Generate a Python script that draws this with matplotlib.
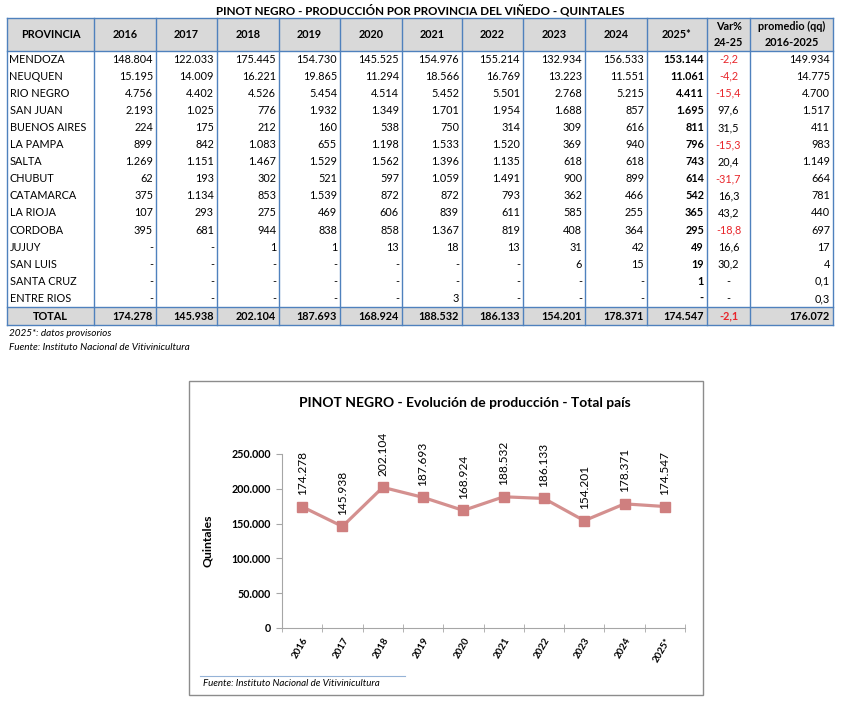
import matplotlib
matplotlib.use("Agg")
import matplotlib.pyplot as plt
from matplotlib.patches import Rectangle
from matplotlib.ticker import FuncFormatter, FixedLocator

plt.rcParams['font.family'] = ['Lato', 'DejaVu Sans']

# ---- table data ----
provincias = ["MENDOZA", "NEUQUEN", "RIO NEGRO", "SAN JUAN", "BUENOS AIRES", "LA PAMPA",
              "SALTA", "CHUBUT", "CATAMARCA", "LA RIOJA", "CORDOBA", "JUJUY",
              "SAN LUIS", "SANTA CRUZ", "ENTRE RIOS"]
years = ["2016", "2017", "2018", "2019", "2020", "2021", "2022", "2023", "2024", "2025*"]

v2016 = [148804, 15195, 4756, 2193, 224, 899, 1269, 62, 375, 107, 395, None, None, None, None]
v2017 = [122033, 14009, 4402, 1025, 175, 842, 1151, 193, 1134, 293, 681, None, None, None, None]
v2018 = [175445, 16221, 4526, 776, 212, 1083, 1467, 302, 853, 275, 944, 1, None, None, None]
v2019 = [154730, 19865, 5454, 1932, 160, 655, 1529, 521, 1539, 469, 838, 1, None, None, None]
v2020 = [145525, 11294, 4514, 1349, 538, 1198, 1562, 597, 872, 606, 858, 13, None, None, None]
v2021 = [154976, 18566, 5452, 1701, 750, 1533, 1396, 1059, 872, 839, 1367, 18, None, None, 3]
v2022 = [155214, 16769, 5501, 1954, 314, 1520, 1135, 1491, 793, 611, 819, 13, None, None, None]
v2023 = [132934, 13223, 2768, 1688, 309, 369, 618, 900, 362, 585, 408, 31, 6, None, None]
v2024 = [156533, 11551, 5215, 857, 616, 940, 618, 899, 466, 255, 364, 42, 15, None, None]
v2025 = [153144, 11061, 4411, 1695, 811, 796, 743, 614, 542, 365, 295, 49, 19, 1, None]
var_24_25 = [-2.2, -4.2, -15.4, 97.6, 31.5, -15.3, 20.4, -31.7, 16.3, 43.2, -18.8, 16.6, 30.2, None, None]
promedio = [149934, 14775, 4700, 1517, 411, 983, 1149, 664, 781, 440, 697, 17, 4, 0.1, 0.3]

totales = [174278, 145938, 202104, 187693, 168924, 188532, 186133, 154201, 178371, 174547]
var_total = -2.1
promedio_total = 176072

year_cols = [v2016, v2017, v2018, v2019, v2020, v2021, v2022, v2023, v2024, v2025]


def miles(v):
    if v is None:
        return "-"
    if v < 1:
        return f"{v:.1f}".replace(".", ",")
    return f"{int(round(v)):,}".replace(",", ".")


def pct(v):
    if v is None:
        return "-"
    return f"{v:.1f}".replace(".", ",")


fig = plt.figure(figsize=(8.42, 7.02), dpi=100)

# ---- table drawn in a pixel-like coordinate axes ----
ax_t = fig.add_axes([0, 0, 1, 1])
ax_t.set_xlim(0, 842)
ax_t.set_ylim(702, 0)
ax_t.axis("off")

edges = [7, 94, 156, 217, 279, 340, 402, 462, 523, 585, 647, 707, 750, 833]
head_top, head_bot = 18, 50.5
row_h = 17.1
n = len(provincias)
tot_top = head_bot + n * row_h
tot_bot = tot_top + row_h + 1
blue = "#4f81bd"
fs = 7.8

ax_t.text(420, 10, "PINOT NEGRO - PRODUCCIÓN POR PROVINCIA DEL VIÑEDO - QUINTALES",
          ha="center", va="center", fontsize=8.4, fontweight="bold")

ax_t.add_patch(Rectangle((edges[0], head_top), edges[-1] - edges[0], head_bot - head_top,
                         facecolor="#d9d9d9", edgecolor="none"))
ax_t.add_patch(Rectangle((edges[0], tot_top), edges[-1] - edges[0], tot_bot - tot_top,
                         facecolor="#d9d9d9", edgecolor="none"))
for x in edges:
    ax_t.plot([x, x], [head_top, tot_bot], color=blue, lw=1)
for y in [head_top, head_bot, tot_top, tot_bot]:
    ax_t.plot([edges[0], edges[-1]], [y, y], color=blue, lw=1)

headers = ["PROVINCIA"] + years + ["Var%\n24-25", "promedio (qq)\n2016-2025"]
for j, h in enumerate(headers):
    cx = (edges[j] + edges[j + 1]) / 2
    ax_t.text(cx, (head_top + head_bot) / 2, h, ha="center", va="center",
              fontsize=fs, fontweight="bold", linespacing=1.5)

for i, prov in enumerate(provincias):
    cy = head_bot + (i + 0.5) * row_h
    ax_t.text(edges[0] + 2.5, cy, prov, ha="left", va="center", fontsize=fs)
    for j, col in enumerate(year_cols):
        ax_t.text(edges[j + 2] - 3, cy, miles(col[i]), ha="right", va="center", fontsize=fs,
                  fontweight="bold" if j == 9 else "normal")
    v = var_24_25[i]
    ax_t.text((edges[11] + edges[12]) / 2, cy, pct(v), ha="center", va="center", fontsize=fs,
              color="#e8262b" if (v is not None and v < 0) else "black")
    ax_t.text(edges[13] - 3, cy, miles(promedio[i]), ha="right", va="center", fontsize=fs)

cy = (tot_top + tot_bot) / 2
ax_t.text((edges[0] + edges[1]) / 2, cy, "TOTAL", ha="center", va="center", fontsize=fs, fontweight="bold")
for j, t in enumerate(totales):
    ax_t.text(edges[j + 2] - 3, cy, miles(t), ha="right", va="center", fontsize=fs, fontweight="bold")
ax_t.text((edges[11] + edges[12]) / 2, cy, pct(var_total), ha="center", va="center",
          fontsize=fs, fontweight="bold", color="#e8262b")
ax_t.text(edges[13] - 3, cy, miles(promedio_total), ha="right", va="center", fontsize=fs, fontweight="bold")

ax_t.text(9, 333, "2025*: datos provisorios", ha="left", va="center", fontsize=7.2, style="italic")
ax_t.text(9, 347, "Fuente: Instituto Nacional de Vitivinicultura", ha="left", va="center",
          fontsize=7.2, style="italic")

# chart frame and chart texts
ax_t.add_patch(Rectangle((189, 381), 703 - 189, 695 - 381, facecolor="white",
                         edgecolor="#8c8c8c", lw=1))
ax_t.text(465, 403, "PINOT NEGRO - Evolución de producción - Total país", ha="center",
          va="center", fontsize=10, fontweight="bold")
ax_t.plot([200, 405], [676, 676], color="#95b3d7", lw=0.8)
ax_t.text(203, 684, "Fuente: Instituto Nacional de Vitivinicultura", ha="left", va="center",
          fontsize=7, style="italic")

# ---- line chart ----
ax = fig.add_axes([282 / 842, (702 - 628) / 702, (685 - 282) / 842, (628 - 454) / 702])
ax.set_facecolor("none")
x = list(range(len(years)))
ax.plot(x, totales, color="#d4908f", lw=2.3, marker="s", markersize=6.5,
        markerfacecolor="#cf7f7f", markeredgecolor="#cf7f7f", zorder=3)
for xi, t in zip(x, totales):
    ax.annotate(miles(t), (xi, t), xytext=(0, 8.5), textcoords="offset points",
                rotation=90, ha="center", va="bottom", fontsize=8.6)

ax.set_xlim(-0.5, len(years) - 0.5)
ax.set_ylim(0, 250000)
ax.set_yticks(range(0, 250001, 50000))
ax.yaxis.set_major_formatter(FuncFormatter(lambda v, p: miles(v) if v > 0 else "0"))
ax.set_xticks(x)
ax.set_xticklabels(years, rotation=60, ha="right", rotation_mode="anchor",
                   fontsize=7, fontweight="bold")
ax.xaxis.set_minor_locator(FixedLocator([i - 0.5 for i in range(len(years) + 1)]))
ax.tick_params(axis="x", which="major", length=0, pad=6)
ax.tick_params(axis="x", which="minor", length=6, direction="inout", color="#a6a6a6")
ax.tick_params(axis="y", length=4, color="#a6a6a6", labelsize=7.7, pad=4)
for lbl in ax.get_yticklabels():
    lbl.set_fontweight("bold")
ax.spines["top"].set_visible(False)
ax.spines["right"].set_visible(False)
ax.spines["left"].set_color("#a6a6a6")
ax.spines["bottom"].set_color("#a6a6a6")
ax.set_ylabel("Quintales", fontsize=8.8, fontweight="bold", labelpad=13)

fig.savefig("out.png", dpi=100)
